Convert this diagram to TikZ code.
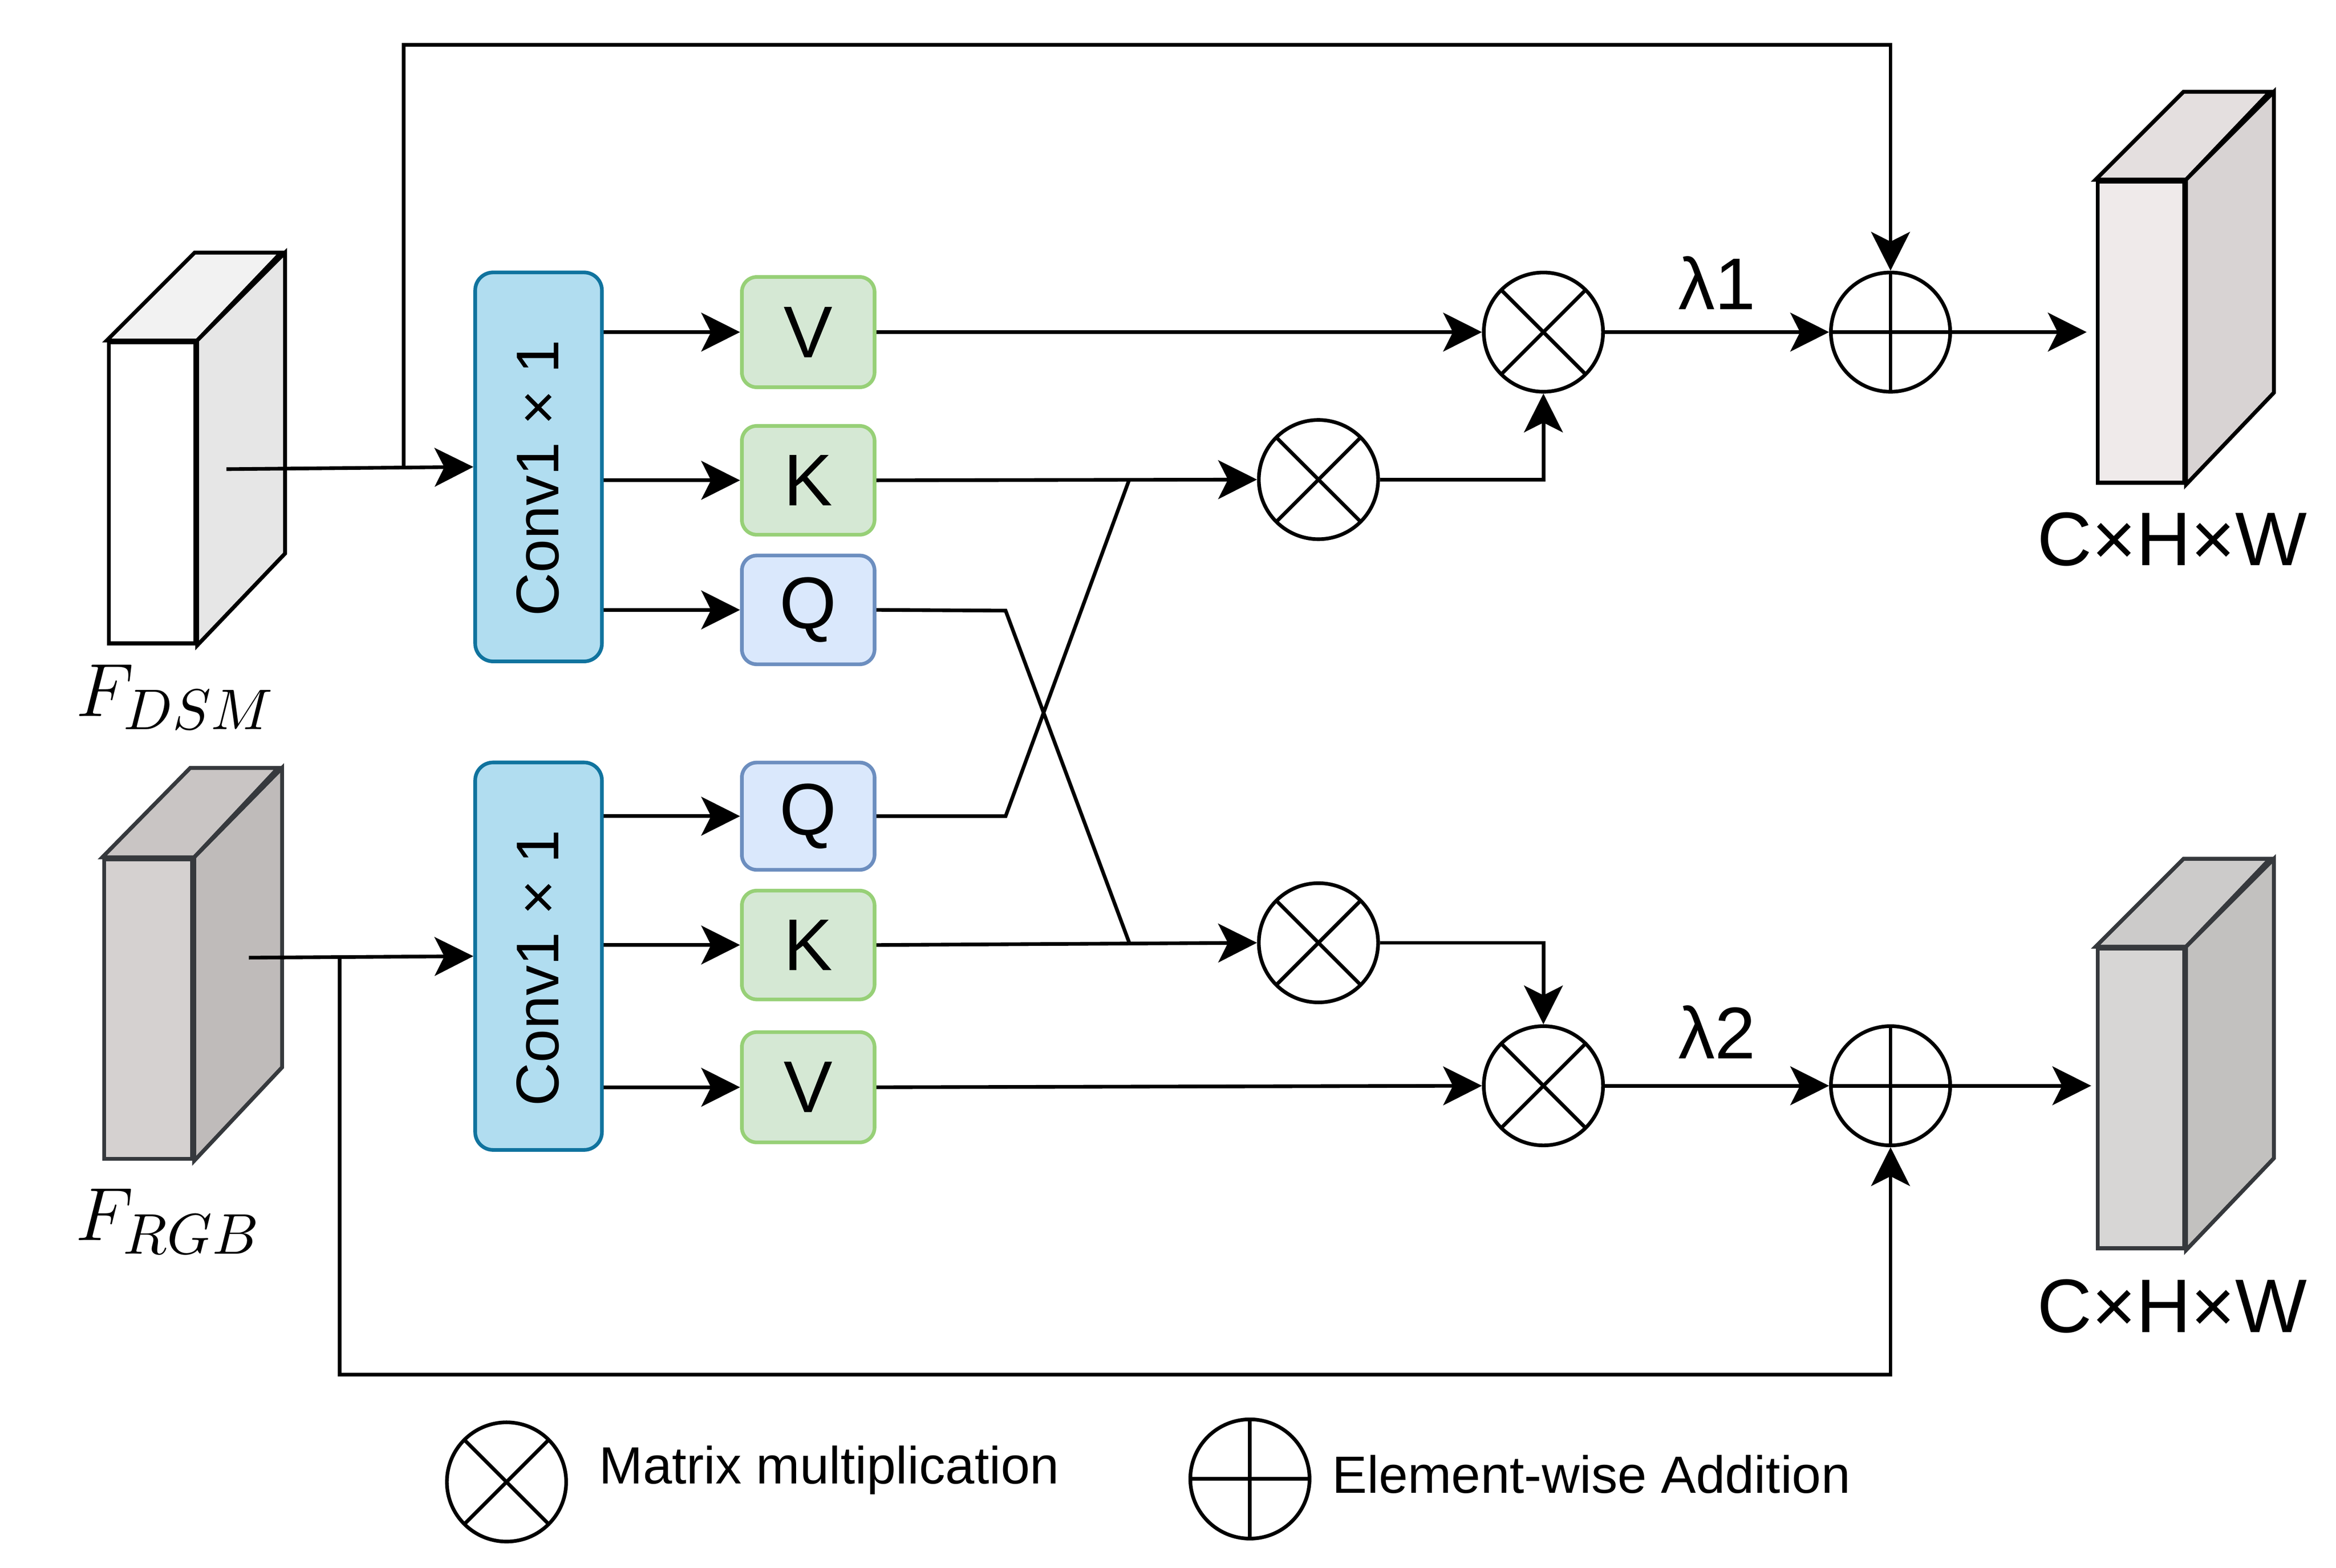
\documentclass[tikz,border=0pt]{standalone}
\usepackage{fontspec}
\setmainfont{Liberation Sans}
\usetikzlibrary{arrows.meta,calc}
\definecolor{convfill}{HTML}{B1DDF0}
\definecolor{convdraw}{HTML}{10739E}
\definecolor{gfill}{HTML}{D5E8D4}
\definecolor{gdraw}{HTML}{97D077}
\definecolor{bfill}{HTML}{DAE8FC}
\definecolor{bdraw}{HTML}{6C8EBF}
\definecolor{darkedge}{HTML}{36393D}
\definecolor{dsmtop}{HTML}{F2F2F2}
\definecolor{dsmside}{HTML}{E6E6E6}
\definecolor{rgbfront}{HTML}{D5D1D0}
\definecolor{rgbtop}{HTML}{C9C5C4}
\definecolor{rgbside}{HTML}{BFBBBA}
\definecolor{oafront}{HTML}{EFEAEA}
\definecolor{oatop}{HTML}{E4DFDF}
\definecolor{oaside}{HTML}{D8D3D3}
\definecolor{obfront}{HTML}{D7D6D5}
\definecolor{obtop}{HTML}{CCCBCA}
\definecolor{obside}{HTML}{C2C1BF}
\begin{document}
\begin{tikzpicture}[x=0.01cm,y=-0.01cm,line width=0.7pt,
  arr/.style={-{Stealth[length=0.26cm,width=0.26cm,inset=0.065cm]}},
  convbox/.style={draw=convdraw,fill=convfill,rounded corners=0.12cm,minimum width=0.85cm,minimum height=2.61cm,inner sep=0pt},
  convtext/.style={rotate=90,font=\fontsize{11.5}{13}\selectfont,inner sep=0pt},
  gbox/.style={draw=gdraw,fill=gfill,rounded corners=0.1cm,minimum width=0.89cm,minimum height=0.73cm,inner sep=0pt,font=\fontsize{14}{16}\selectfont},
  bbox/.style={gbox,draw=bdraw,fill=bfill},
  mult/.style={circle,draw,minimum size=0.8cm,inner sep=0pt,path picture={\draw (path picture bounding box.north west) -- (path picture bounding box.south east) (path picture bounding box.south west) -- (path picture bounding box.north east);}},
  addc/.style={circle,draw,minimum size=0.8cm,inner sep=0pt,path picture={\draw (path picture bounding box.north) -- (path picture bounding box.south) (path picture bounding box.west) -- (path picture bounding box.east);}},
  front/.style={draw,line width=0.75pt,minimum width=0.58cm,minimum height=2.02cm,inner sep=0pt},
  face/.style={draw,line width=0.75pt,line join=miter},
  lbl/.style={font=\fontsize{14}{16}\selectfont,inner sep=0pt},
  mathlbl/.style={font=\fontsize{15}{18}\selectfont,inner sep=0pt},
  leg/.style={font=\fontsize{10}{12}\selectfont,inner sep=0pt,anchor=west}]
\useasboundingbox (0,0) rectangle (1568,1052.5);

% ---- input cubes ----
\node[front,fill=white] (dsm) at (102,331) {};
\draw[face,fill=dsmtop] (dsm.north west) -- ++(59,-59) -- ++(58,0) -- (dsm.north east) -- cycle;
\draw[face,fill=dsmside] (dsm.north east) -- ++(59,-59) -- ++(0,202) -- (dsm.south east) -- cycle;
\node[mathlbl] (dsml) at (118,468) {$F_{DSM}$};

\node[front,draw=darkedge,fill=rgbfront,minimum width=0.59cm,minimum height=2.01cm] (rgb) at (99.5,677.5) {};
\draw[face,draw=darkedge,fill=rgbtop] (rgb.north west) -- ++(59,-60) -- ++(59,0) -- (rgb.north east) -- cycle;
\draw[face,draw=darkedge,fill=rgbside] (rgb.north east) -- ++(59,-60) -- ++(0,201) -- (rgb.south east) -- cycle;
\node[mathlbl] (rgbl) at (113,820) {$F_{RGB}$};

% ---- output cubes ----
\node[front,fill=oafront] (oa) at (1437,223) {};
\draw[face,fill=oatop] (oa.north west) -- ++(59,-59) -- ++(58,0) -- (oa.north east) -- cycle;
\draw[face,fill=oaside] (oa.north east) -- ++(59,-59) -- ++(0,202) -- (oa.south east) -- cycle;
\node[lbl,font=\fontsize{14.5}{17}\selectfont] (oal) at (1458,362) {C×H×W};

\node[front,draw=darkedge,fill=obfront,minimum height=2.01cm] (ob) at (1437,737.5) {};
\draw[face,draw=darkedge,fill=obtop] (ob.north west) -- ++(59,-59) -- ++(58,0) -- (ob.north east) -- cycle;
\draw[face,draw=darkedge,fill=obside] (ob.north east) -- ++(59,-59) -- ++(0,201) -- (ob.south east) -- cycle;
\node[lbl,font=\fontsize{14.5}{17}\selectfont] (obl) at (1458,877) {C×H×W};

% ---- conv boxes ----
\node[convbox] (c1) at (361.5,313.5) {};
\node[convtext] (c1t) at (361,321) {Conv1 × 1};
\node[convbox,minimum height=2.60cm] (c2) at (361.5,642) {};
\node[convtext] (c2t) at (361,650) {Conv1 × 1};

% ---- Q K V boxes ----
\node[gbox,minimum height=0.74cm] (v1) at (542.5,223) {V};
\node[gbox] (k1) at (542.5,322.5) {K};
\node[bbox] (q1) at (542.5,409.5) {Q};
\node[bbox,minimum height=0.72cm] (q2) at (542.5,548) {Q};
\node[gbox] (k2) at (542.5,634.5) {K};
\node[gbox,minimum height=0.74cm] (v2) at (542.5,730) {V};

% ---- operators ----
\node[mult] (m1) at (1036,223) {};
\node[addc] (a1) at (1269,223) {};
\node[mult] (m2) at (885,322) {};
\node[mult] (m3) at (885,633) {};
\node[mult] (m4) at (1036,729) {};
\node[addc] (a2) at (1269,729) {};

% ---- coordinates ----
\coordinate (dsmo) at (152,315);
\coordinate (dsmb) at (271,314);
\coordinate (rgbo) at (167,643);
\coordinate (rgbb) at (228,643);
\coordinate (topy) at (271,30);
\coordinate (boty) at (228,923);
\coordinate (qa) at (675,548);
\coordinate (qaj) at (758,322);
\coordinate (qb) at (675,410);
\coordinate (qbj) at (758,633);

% ---- connectors ----
\draw[arr] (dsmo) -- (c1.west);
\draw[arr] (dsmb) -- (topy) -| (a1.north);
\draw[arr] (rgbo) -- (c2.west);
\draw[arr] (rgbb) -- (boty) -| (a2.south);

\draw[arr] (c1.east |- v1) -- (v1.west);
\draw[arr] (c1.east |- k1) -- (k1.west);
\draw[arr] (c1.east |- q1) -- (q1.west);
\draw[arr] (c2.east |- q2) -- (q2.west);
\draw[arr] (c2.east |- k2) -- (k2.west);
\draw[arr] (c2.east |- v2) -- (v2.west);

\draw[arr] (v1.east) -- (m1.west);
\draw[arr] (k1.east) -- (m2.west);
\draw (q2.east) -- (qa) -- (qaj);
\draw (q1.east) -- (qb) -- (qbj);
\draw[arr] (k2.east) -- (m3.west);
\draw[arr] (v2.east) -- (m4.west);

\draw[arr] (m2.east) -| (m1.south);
\draw[arr] (m3.east) -| (m4.north);

\draw[arr] (m1.east) -- (a1.west) node[lbl,midway,yshift=0.33cm] (l1) {λ1};
\draw[arr] (m4.east) -- (a2.west) node[lbl,midway,yshift=0.36cm] (l2) {λ2};

\draw[arr,shorten >=0.06cm] (a1.east) -- (oa.west);
\draw[arr,shorten >=0.03cm] (a2.east) -- (ob.west |- a2.east);

% ---- legend ----
\node[mult] (lm) at (340,995) {};
\node[leg] (lmt) at (401,987) {Matrix multiplication};
\node[addc] (la) at (839,993) {};
\node[leg] (lat) at (893,990) {Element-wise Addition};
\end{tikzpicture}
\end{document}
